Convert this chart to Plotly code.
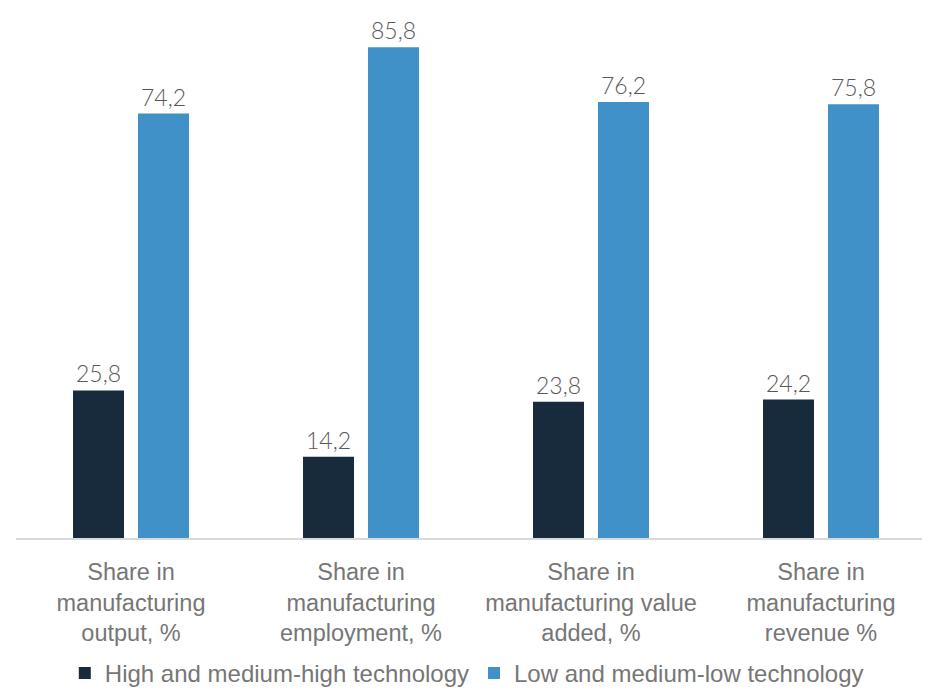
import plotly.graph_objects as go

categories = ["Share in<br>manufacturing<br>output, %", "Share in<br>manufacturing<br>employment, %",
              "Share in<br>manufacturing value<br>added, %", "Share in<br>manufacturing<br>revenue %"]
high_tech = [25.8, 14.2, 23.8, 24.2]
low_tech = [74.2, 85.8, 76.2, 75.8]

label_font = dict(family="Lato, Open Sans, sans-serif", size=23, color="#595959", weight=300)

fig = go.Figure()
fig.add_trace(go.Bar(x=categories, y=high_tech, name="High and medium-high technology",
                     marker=dict(color="#172b3d", line=dict(width=0)),
                     texttemplate="%{y:.1f}", textposition="outside", textfont=label_font,
                     cliponaxis=False))
fig.add_trace(go.Bar(x=categories, y=low_tech, name="Low and medium-low technology",
                     marker=dict(color="#4191c9", line=dict(width=0)),
                     texttemplate="%{y:.1f}", textposition="outside", textfont=label_font,
                     cliponaxis=False))

fig.update_layout(
    width=930, height=690,
    margin=dict(l=8, r=2, t=22, b=153),
    paper_bgcolor="white", plot_bgcolor="white",
    barmode="group", bargap=0.435, bargroupgap=0.215,
    separators=", ",
    font=dict(family="Liberation Sans, Arial, sans-serif", size=24, color="#767676"),
    showlegend=True,
    legend=dict(orientation="h", x=0.49, xanchor="center", y=-0.222, yanchor="top",
                font=dict(size=24, color="#767676"), traceorder="normal",
                itemwidth=30, itemclick=False),
    xaxis=dict(showline=True, linecolor="#d9d9d9", linewidth=2, ticks="",
               tickfont=dict(size=23.5, color="#767676"), showgrid=False,
               ticklabelstandoff=12),
    yaxis=dict(range=[0, 88.8], visible=False, showgrid=False, zeroline=False),
)

fig.write_html("out.html")
